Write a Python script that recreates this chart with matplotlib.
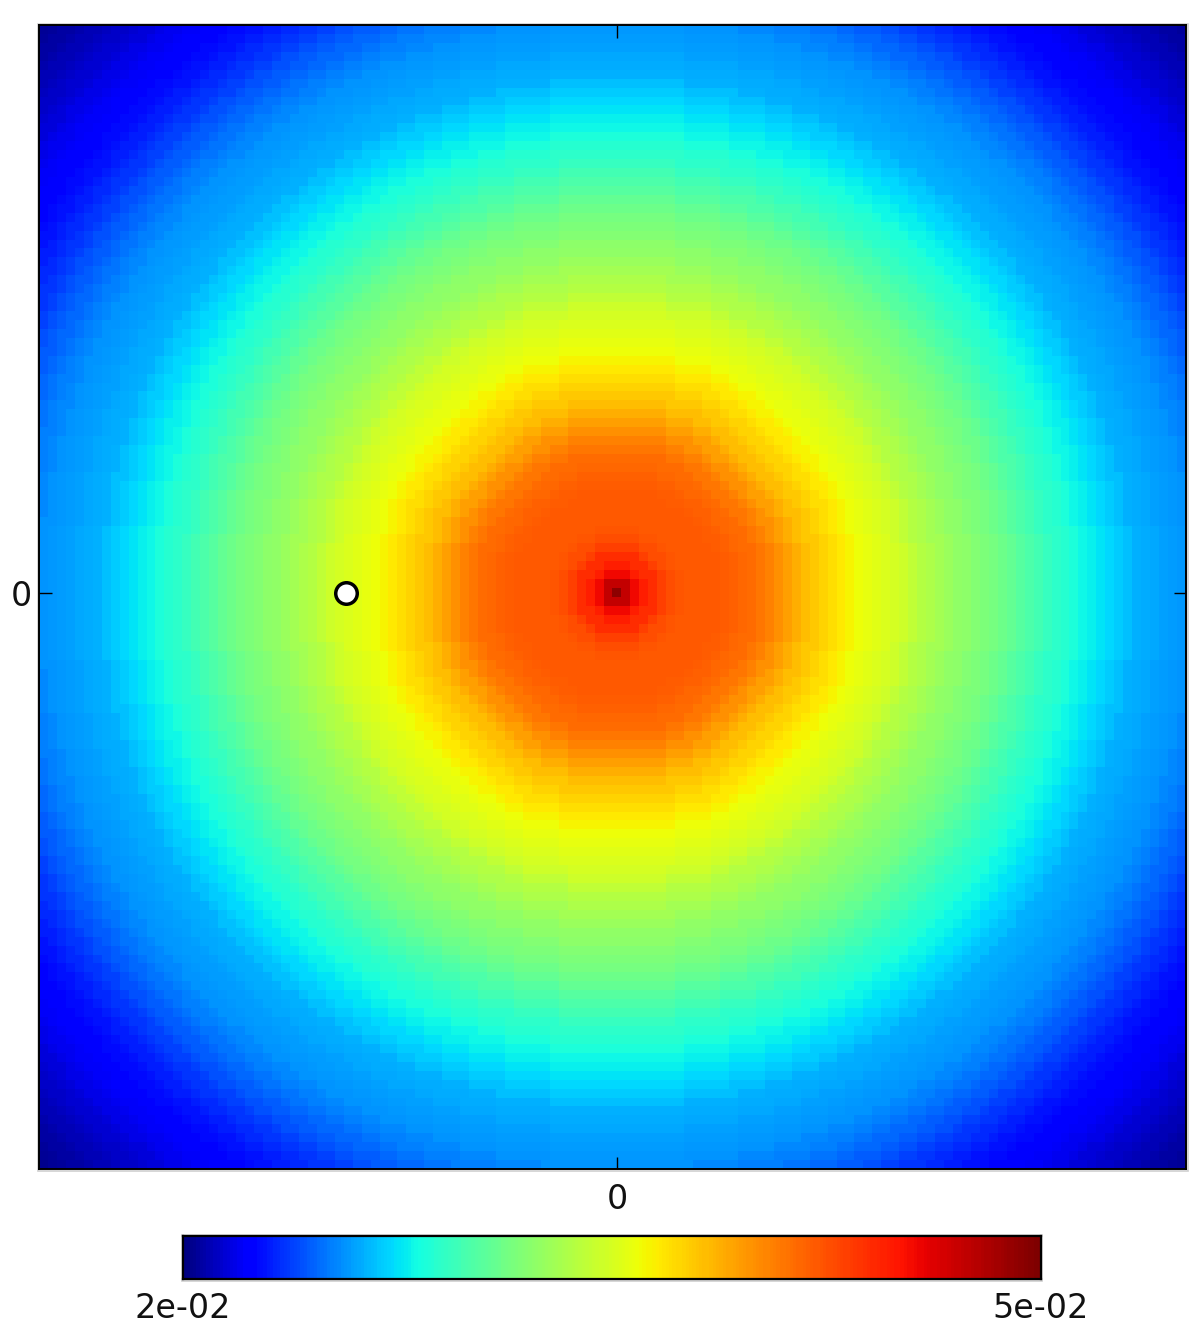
import numpy as np
import matplotlib
matplotlib.use("Agg")
import matplotlib.pyplot as plt
from matplotlib.colors import LogNorm
from matplotlib.patches import Rectangle

W, H = 1200, 1341

# Radial profile per integer cell radius, read from the colours and given as the
# fraction of the way from vmin to vmax on the log colour scale
radial_log_fraction = [
    .985, .94, .90, .875, .86, .84, .825, .82, .815, .815,
    .815, .813, .81, .805, .80, .795, .785, .77, .755, .74,
    .725, .71, .697, .685, .672, .661, .65, .64, .632, .622,
    .615, .607, .60, .583, .57, .56, .55, .537, .527, .52,
    .51, .503, .496, .483, .47, .456, .444, .43, .417, .405,
    .395, .385, .37, .36, .35, .338, .325, .313, .30, .296,
    .29, .285, .28, .275, .27, .26, .25, .24, .23, .215,
    .205, .19, .178, .166, .154, .142, .133, .124, .115, .108,
    .10, .09, .08, .072, .064, .056, .048, .04, .032, .026,
    .02, .015,
]
grid_size = 128
marker_x = [-30.2]
marker_y = [0]
vmin_value, vmax_value = 0.02, 0.05
cbar_labels = ["2e-02", "5e-02"]
axis_tick_labels = ["0"]

profile = vmin_value * (vmax_value / vmin_value) ** np.array(radial_log_fraction)
coords = np.arange(grid_size) - grid_size // 2
x, y = np.meshgrid(coords, coords)
euclid = np.hypot(x, y)
octagon = np.maximum.reduce([np.abs(x), np.abs(y), (np.abs(x) + np.abs(y)) / np.sqrt(2)])
# the inner plateau has slightly faceted contours in the reference
blend = 0.4 * np.clip((euclid - 6) / 4, 0, 1) * np.clip((34 - euclid) / 8, 0, 1)
dist = euclid + (octagon - euclid) * blend
field = profile[np.clip(np.rint(dist).astype(int), 0, len(profile) - 1)]


def box(l, t, r, b):
    return [l / W, 1 - b / H, (r - l) / W, (b - t) / H]


norm = LogNorm(vmin=vmin_value, vmax=vmax_value)
fig = plt.figure(figsize=(W / 100, H / 100), dpi=100)
ax = fig.add_axes(box(39, 25, 1186, 1169))
ax.imshow(field, origin="lower", cmap="jet", norm=norm,
          extent=(coords[0] - .5, coords[-1] + .5, coords[0] - .5, coords[-1] + .5),
          interpolation="nearest", aspect="auto")
ax.plot(marker_x, marker_y, "o", ms=15.5, mfc="white", mec="black", mew=2.5, clip_on=False)
ax.set_xticks([0], axis_tick_labels, fontsize=24)
ax.set_yticks([0], axis_tick_labels, fontsize=24)
ax.tick_params(axis="x", direction="in", length=9, width=1, top=True, bottom=True,
               pad=10, labelcolor="#111111")
ax.tick_params(axis="y", direction="in", length=9, width=1, left=True, right=True,
               pad=5, labelcolor="#111111")
for s in ax.spines.values():
    s.set_linewidth(1.4)
    s.set_color("black")

# colour bar: evenly spaced in value, coloured through the log norm
cax = fig.add_axes(box(183, 1236, 1041, 1279))
gradient = np.linspace(vmin_value, vmax_value, 256)[np.newaxis, :]
cax.imshow(gradient, cmap="jet", norm=norm, aspect="auto",
           extent=(vmin_value, vmax_value, 0, 1), interpolation="nearest")
cax.set_yticks([])
cax.set_xticks([vmin_value, vmax_value], cbar_labels, fontsize=24, color="#111111")
cax.tick_params(axis="x", length=0, pad=9)
for s in cax.spines.values():
    s.set_linewidth(1.6)
    s.set_color("black")

# pale halo around the frames, as in the resampled reference
for (l, t, r, b) in [(37.5, 23.5, 1187.5, 1170.5), (181.5, 1234.5, 1042, 1280.5)]:
    fig.add_artist(Rectangle((l / W, 1 - b / H), (r - l) / W, (b - t) / H,
                             transform=fig.transFigure, fill=False,
                             ec="#cfcfcf", lw=1.2, zorder=0))

fig.savefig("out.png", dpi=100)
